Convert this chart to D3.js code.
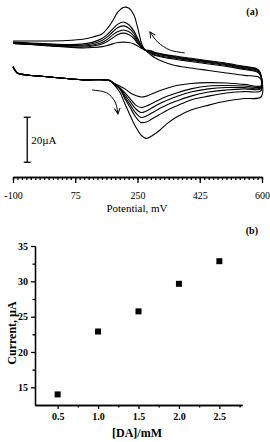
<!DOCTYPE html>
<html>
<head>
<meta charset="utf-8">
<script src="https://cdn.jsdelivr.net/npm/d3@7"></script>
<style>
  body { margin: 0; background: #fff; }
  svg { display: block; }
  svg text { font-family: "Liberation Serif", "DejaVu Serif", serif; fill: #000; }
  .axis path, .axis line { stroke: #000; stroke-width: 1.3; }
</style>
</head>
<body>
<svg id="chart" width="270" height="442"></svg>
<script>
// ---- panel (a): cyclic voltammograms (potential in mV, current in µA) ----
const startE = [-100, -88, -60, -20, 50, 100, 170];
const startI = [1.4, -1.3, -2.2, -2.8, -3.8, -4.4, -4.6];

const lowerE = [185, 200, 215, 230, 245, 260, 275, 290, 310, 335, 360, 400, 450, 500, 550, 597];
const lowerI = [
  [-6.0, -7.1, -8.4, -10.2, -11.3, -12.0, -11.6, -10.7, -9.3, -8.0, -6.9, -6.0, -5.6, -5.8, -6.4, -7.1],
  [-6.2, -7.8, -10.2, -12.9, -15.6, -16.7, -16.0, -14.9, -13.3, -11.6, -10.2, -8.4, -7.1, -6.9, -7.1, -7.6],
  [-6.2, -8.0, -11.1, -14.2, -17.3, -18.9, -18.2, -16.9, -15.1, -13.3, -11.8, -9.8, -8.4, -7.8, -7.8, -8.0],
  [-6.4, -8.2, -12.0, -15.6, -19.1, -21.1, -20.4, -19.1, -17.3, -15.3, -13.8, -11.6, -9.8, -8.9, -8.4, -8.4],
  [-6.4, -8.4, -12.9, -16.9, -20.9, -23.3, -23.1, -21.8, -20.0, -17.8, -16.0, -13.3, -11.6, -10.2, -9.6, -9.3],
  [-6.7, -9.8, -15.1, -20.4, -25.3, -28.9, -30.4, -29.3, -27.1, -23.6, -20.9, -17.8, -15.6, -13.8, -12.7, -12.0]
];

const upperE = [600, 590, 550, 500, 450, 400, 350, 300, 285, 271, 262, 250, 240, 225, 210, 195, 180, 165, 150, 125, 100, 50, 0, -50, -100];
const upperI = [
  [-5.3, -1.3, 0.2, 1.6, 2.7, 3.8, 4.9, 6.4, 7.6, 8.9, 9.6, 10.7, 11.6, 12.2, 12.4, 12.2, 11.6, 10.9, 10.4, 10.0, 9.8, 10.2, 10.7, 11.3, 11.8],
  [-5.3, -0.9, 0.6, 2.0, 3.1, 4.2, 5.3, 6.8, 7.9, 8.9, 10.0, 11.8, 14.0, 15.8, 16.4, 15.8, 14.2, 12.7, 11.6, 10.7, 10.2, 10.4, 10.9, 11.3, 11.8],
  [-5.3, -0.5, 1.0, 2.4, 3.5, 4.6, 5.7, 7.2, 8.2, 8.9, 10.2, 12.4, 15.1, 17.1, 17.8, 17.1, 15.6, 13.6, 12.2, 11.1, 10.7, 10.7, 11.1, 11.6, 12.0],
  [-5.3, -0.2, 1.3, 2.7, 3.8, 4.9, 6.0, 7.5, 8.5, 8.9, 10.4, 13.3, 16.2, 18.7, 19.6, 18.9, 16.9, 14.7, 13.1, 11.8, 11.1, 10.9, 11.3, 11.8, 12.2],
  [-5.3, 0.1, 1.6, 3.0, 4.1, 5.2, 6.3, 7.8, 8.7, 8.9, 10.7, 14.2, 17.3, 20.2, 21.3, 20.4, 18.2, 15.8, 14.0, 12.4, 11.6, 11.3, 11.6, 12.0, 12.4],
  [-5.3, -3.1, -2.4, -1.3, -0.2, 0.9, 2.2, 5.3, 7.1, 8.9, 11.6, 19.1, 24.4, 27.6, 27.8, 25.8, 21.8, 18.4, 16.0, 14.7, 13.8, 13.1, 12.9, 12.9, 12.9]
];

// scan direction arrows (mV, µA)
const arrowUp = [[383, 7.6], [341, 8.9], [307, 12.4], [285, 16.9]];
const arrowDown = [[122, -8.9], [164, -10.2], [187, -14.2], [195, -19.5]];

const potentialTicks = [-100, 75, 250, 425, 600];
const scaleBar = [-21, -41];   // 20 µA

// ---- panel (b): peak current vs concentration ----
const conc = [0.5, 1.0, 1.5, 2.0, 2.5];
const peakCurrent = [14.0, 22.9, 25.75, 29.65, 32.85];
const concTicks = [0.5, 1.0, 1.5, 2.0, 2.5];
const currentTicks = [15, 20, 25, 30, 35];

const svg = d3.select('#chart');

svg.append('defs').append('marker')
  .attr('id', 'head')
  .attr('viewBox', '0 0 10 10')
  .attr('refX', 9).attr('refY', 5)
  .attr('markerWidth', 7).attr('markerHeight', 7)
  .attr('orient', 'auto')
  .append('path')
  .attr('d', 'M1,1 L9,5 L1,9')
  .attr('fill', 'none').attr('stroke', '#000').attr('stroke-width', 1.4);

/* ---------- panel (a) ---------- */
const xA = d3.scaleLinear().domain([-100, 600]).range([13, 262]);
const yA = d3.scaleLinear().domain([0, 20]).range([70, 25]);

const line = d3.line()
  .x(d => xA(d[0])).y(d => yA(d[1]))
  .curve(d3.curveCatmullRom.alpha(0.5));

const curves = lowerI.map((lo, k) => {
  const pts = startE.map((e, i) => [e, startI[i]]);
  lowerE.forEach((e, i) => pts.push([e, lo[i]]));
  upperE.forEach((e, i) => pts.push([e, upperI[k][i]]));
  return pts;
});

svg.append('g').selectAll('path')
  .data(curves)
  .enter().append('path')
  .attr('d', line)
  .attr('fill', 'none')
  .attr('stroke', '#000')
  .attr('stroke-width', 1.1);

svg.selectAll('.arrow')
  .data([arrowUp, arrowDown])
  .enter().append('path')
  .attr('class', 'arrow')
  .attr('d', line)
  .attr('fill', 'none')
  .attr('stroke', '#000')
  .attr('stroke-width', 1)
  .attr('marker-end', 'url(#head)');

// scale bar
const barX = xA(-60);
svg.append('line')
  .attr('x1', barX).attr('x2', barX)
  .attr('y1', yA(scaleBar[0])).attr('y2', yA(scaleBar[1]))
  .attr('stroke', '#000').attr('stroke-width', 1.3);
scaleBar.forEach(v => {
  svg.append('line')
    .attr('x1', barX - 3.5).attr('x2', barX + 3.5)
    .attr('y1', yA(v)).attr('y2', yA(v))
    .attr('stroke', '#000').attr('stroke-width', 1.3);
});
svg.append('text')
  .attr('x', barX + 4).attr('y', yA((scaleBar[0] + scaleBar[1]) / 2) + 4)
  .attr('font-size', 11)
  .text('20µA');

// potential axis
const axisY = 177;
svg.append('g')
  .attr('class', 'axis')
  .attr('transform', `translate(0,${axisY})`)
  .call(d3.axisBottom(xA).tickValues(d3.range(-100, 600.1, 12.5)).tickSize(3).tickSizeOuter(0).tickFormat(''))
  .call(g => g.selectAll('line').attr('stroke-width', 1));
svg.append('g')
  .attr('class', 'axis')
  .attr('transform', `translate(0,${axisY})`)
  .call(d3.axisBottom(xA).tickValues(potentialTicks).tickSize(6).tickSizeOuter(0).tickPadding(9).tickFormat(d => String(d)))
  .attr('font-family', null)
  .call(g => g.selectAll('text').attr('font-size', 10));

svg.append('text')
  .attr('x', 137).attr('y', 212)
  .attr('text-anchor', 'middle')
  .attr('font-size', 11)
  .text('Potential, mV');

svg.append('text')
  .attr('x', 258).attr('y', 15)
  .attr('text-anchor', 'end')
  .attr('font-size', 10).attr('font-weight', 'bold')
  .text('(a)');

/* ---------- panel (b) ---------- */
const xB = d3.scaleLinear().domain([0.22, 2.78]).range([35, 242]);
const yB = d3.scaleLinear().domain([12.5, 35]).range([405, 246]);

const gB = svg.append('g');

gB.append('g')
  .attr('class', 'axis')
  .attr('transform', 'translate(0,405)')
  .call(d3.axisBottom(xB).tickValues([0.75, 1.25, 1.75, 2.25, 2.75]).tickSize(2.5).tickSizeOuter(0).tickFormat(''));
gB.append('g')
  .attr('class', 'axis')
  .attr('transform', 'translate(0,405)')
  .call(d3.axisBottom(xB).tickValues(concTicks).tickSize(4).tickSizeOuter(0).tickPadding(4).tickFormat(d3.format('.1f')))
  .attr('font-family', null)
  .call(g => g.selectAll('text').attr('font-size', 10).attr('font-weight', 'bold'));

gB.append('g')
  .attr('class', 'axis')
  .attr('transform', 'translate(35,0)')
  .call(d3.axisLeft(yB).tickValues([17.5, 22.5, 27.5, 32.5]).tickSize(2.5).tickSizeOuter(0).tickFormat(''));
gB.append('g')
  .attr('class', 'axis')
  .attr('transform', 'translate(35,0)')
  .call(d3.axisLeft(yB).tickValues(currentTicks).tickSize(4).tickSizeOuter(0).tickPadding(3))
  .attr('font-family', null)
  .call(g => g.selectAll('text').attr('font-size', 10).attr('font-weight', 'bold'));

gB.selectAll('rect.pt')
  .data(conc)
  .enter().append('rect')
  .attr('class', 'pt')
  .attr('x', d => xB(d) - 3)
  .attr('y', (d, i) => yB(peakCurrent[i]) - 3)
  .attr('width', 6).attr('height', 6)
  .attr('fill', '#000');

gB.append('text')
  .attr('x', 137).attr('y', 437)
  .attr('text-anchor', 'middle')
  .attr('font-size', 12).attr('font-weight', 'bold')
  .text('[DA]/mM');

gB.append('text')
  .attr('transform', 'translate(16,333) rotate(-90)')
  .attr('text-anchor', 'middle')
  .attr('font-size', 12).attr('font-weight', 'bold')
  .text('Current, µA');

gB.append('text')
  .attr('x', 258).attr('y', 234)
  .attr('text-anchor', 'end')
  .attr('font-size', 10).attr('font-weight', 'bold')
  .text('(b)');
</script>
</body>
</html>
